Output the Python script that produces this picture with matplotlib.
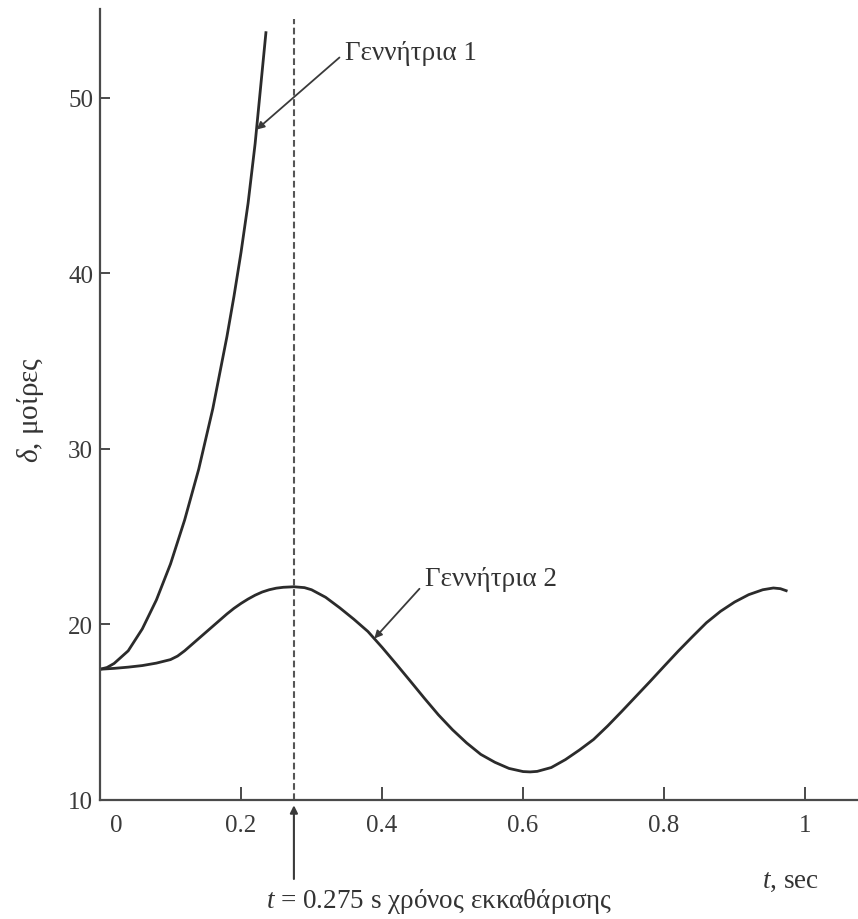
import matplotlib
matplotlib.use("Agg")
import matplotlib.pyplot as plt
import matplotlib.transforms as mtransforms

plt.rcParams["font.family"] = ["Liberation Serif", "DejaVu Serif"]
plt.rcParams["mathtext.fontset"] = "custom"
plt.rcParams["mathtext.rm"] = "Liberation Serif"
plt.rcParams["mathtext.it"] = "Liberation Serif:italic"

# Rotor angle of generator 1 (unstable swing) in degrees vs time in seconds
t_gen1 = [0.0, 0.01, 0.02, 0.04, 0.06, 0.08, 0.10, 0.12, 0.14, 0.16, 0.18, 0.19,
          0.20, 0.21, 0.22, 0.2355]
delta_gen1 = [17.45, 17.55, 17.78, 18.5, 19.75, 21.4, 23.45, 25.95, 28.85, 32.3,
              36.4, 38.7, 41.2, 44.0, 47.4, 53.8]

# Rotor angle of generator 2 (stable oscillation)
t_gen2 = [0.0, 0.02, 0.04, 0.06, 0.08, 0.10, 0.11, 0.12, 0.13, 0.14, 0.15,
          0.16, 0.17, 0.18, 0.19, 0.20, 0.21, 0.22, 0.23, 0.24, 0.25, 0.26,
          0.275, 0.29, 0.30, 0.32, 0.34, 0.36, 0.38, 0.40, 0.42, 0.44, 0.46,
          0.48, 0.50, 0.52, 0.54, 0.56, 0.58, 0.60, 0.61, 0.62, 0.64, 0.66,
          0.68, 0.70, 0.72, 0.74, 0.76, 0.78, 0.80, 0.82, 0.84, 0.86, 0.88,
          0.90, 0.92, 0.94, 0.955, 0.965, 0.975]
delta_gen2 = [17.45, 17.5, 17.57, 17.66, 17.8, 18.0, 18.2, 18.5, 18.85, 19.2,
              19.55, 19.9, 20.25, 20.6, 20.92, 21.2, 21.45, 21.67, 21.85, 21.98,
              22.07, 22.12, 22.15, 22.1, 21.98, 21.55, 20.95, 20.3, 19.6, 18.7,
              17.75, 16.78, 15.8, 14.85, 14.0, 13.25, 12.6, 12.15, 11.8, 11.62,
              11.6, 11.63, 11.85, 12.3, 12.85, 13.45, 14.22, 15.05, 15.9, 16.75,
              17.62, 18.48, 19.3, 20.1, 20.75, 21.28, 21.7, 21.98, 22.08, 22.04,
              21.9]

t_clear = 0.275
x_ticks = [0, 0.2, 0.4, 0.6, 0.8, 1]
x_tick_labels = ["0", "0.2", "0.4", "0.6", "0.8", "1"]
y_ticks = [10, 20, 30, 40, 50]
y_tick_labels = ["10", "20", "30", "40", "50"]

ink = "#2b2b2b"
axis_col = "#4a4a4a"
txt_col = "#333333"
fs_tick = 18
fs_text = 19.5
fs_ylabel = 21

fig = plt.figure(figsize=(8.58, 9.2), dpi=100)
ax = fig.add_axes([100 / 858, 1 - 801 / 920, 758 / 858, 791 / 920])
ax.set_xlim(0, 1.075)
ax.set_ylim(10, 55.07)

for side in ("top", "right"):
    ax.spines[side].set_visible(False)
for side in ("left", "bottom"):
    ax.spines[side].set_color(axis_col)
    ax.spines[side].set_linewidth(1.6)

ax.set_xticks(x_ticks)
ax.set_xticklabels(x_tick_labels)
ax.set_yticks(y_ticks)
ax.set_yticklabels(y_tick_labels)
ax.tick_params(axis="x", direction="in", length=9.5, width=1.4, color=axis_col,
               pad=10, labelsize=fs_tick, labelcolor="#3a3a3a")
ax.tick_params(axis="y", direction="in", length=7.5, width=1.4, color=axis_col,
               pad=5, labelsize=fs_tick, labelcolor="#3a3a3a")

# shift the "0" label off the vertical axis
lbl0 = ax.get_xticklabels()[0]
lbl0.set_transform(lbl0.get_transform() +
                   mtransforms.ScaledTranslation(16 / 100, 0, fig.dpi_scale_trans))

ax.plot(t_gen1, delta_gen1, color=ink, lw=2.0, solid_joinstyle="round",
        solid_capstyle="butt")
ax.plot(t_gen2, delta_gen2, color=ink, lw=2.0, solid_joinstyle="round",
        solid_capstyle="butt")

# fault clearing time marker
ax.plot([t_clear, t_clear], [10, 54.5], color="#555555", lw=1.5,
        dashes=(3.2, 1.7))

arrow_kw = dict(arrowstyle="-|>", mutation_scale=11, lw=1.3, color="#3a3a3a",
                shrinkA=3, shrinkB=0)
ax.annotate("Γεννήτρια 1", xy=(0.2222, 48.2), xytext=(0.348, 52.6),
            ha="left", va="center", fontsize=fs_text, color=txt_col,
            arrowprops=dict(arrow_kw, relpos=(0, 0.5)))
ax.annotate("Γεννήτρια 2", xy=(0.389, 19.2), xytext=(0.461, 22.6),
            ha="left", va="center", fontsize=fs_text, color=txt_col,
            arrowprops=dict(arrow_kw, relpos=(0, 0.35)))

ax.annotate("", xy=(t_clear, 9.7), xytext=(t_clear, 5.5),
            annotation_clip=False,
            arrowprops=dict(arrowstyle="-|>", mutation_scale=11, lw=1.5,
                            color="#3a3a3a", shrinkA=0, shrinkB=0))

fig.text(439 / 858, 1 - 902 / 920, "$t$ = 0.275 s χρόνος εκκαθάρισης",
         ha="center", va="center", fontsize=fs_text, color=txt_col)
fig.text(790 / 858, 1 - 882 / 920, "$t$, sec",
         ha="center", va="center", fontsize=fs_text, color=txt_col)
fig.text(30 / 858, 1 - 410 / 920, "$\\delta$, μοίρες", rotation=90,
         ha="center", va="center", fontsize=fs_ylabel, color=txt_col)

fig.savefig("out.png", dpi=100, facecolor="white")
